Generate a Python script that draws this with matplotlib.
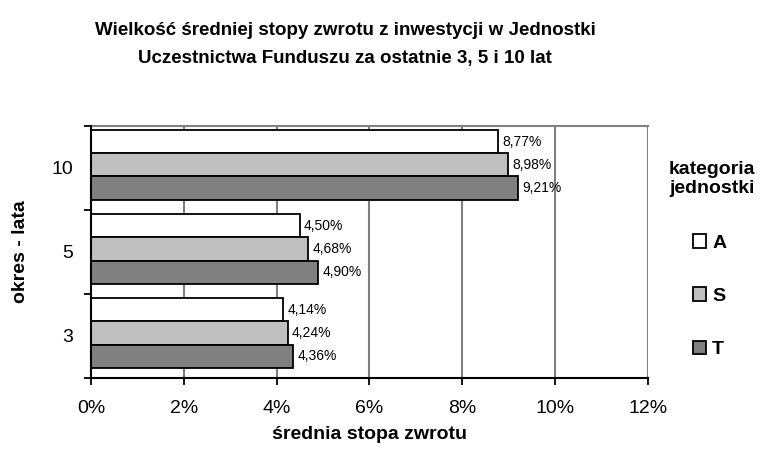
"""
Średnia stopa zwrotu z inwestycji w jednostki funduszu - poziomy wykres słupkowy.
"""
import numpy as np
import matplotlib.pyplot as plt
from matplotlib.ticker import FuncFormatter

plt.rcParams["font.family"] = ["Liberation Sans", "DejaVu Sans"]

periods = ["3", "5", "10"]
categories = ["A", "S", "T"]
values_a = [4.14, 4.50, 8.77]
values_s = [4.24, 4.68, 8.98]
values_t = [4.36, 4.90, 9.21]
colors = ["#ffffff", "#c0c0c0", "#808080"]


def pl(v):
    return f"{v:.2f}%".replace(".", ",")


fig = plt.figure(figsize=(7.77, 4.61), dpi=100)
ax = fig.add_axes([0.117, 0.18, 0.717, 0.547])

y = np.arange(len(periods))
h = 0.275
offsets = [0.31, 0.035, -0.24]
for vals, off, col, name in zip([values_a, values_s, values_t], offsets, colors, categories):
    bars = ax.barh(y + off, vals, height=h, color=col, edgecolor="black", linewidth=1.3,
                   label=name, zorder=3)
    for b, v in zip(bars, vals):
        ax.annotate(pl(v), (v, b.get_y() + b.get_height() / 2), xytext=(3, 0),
                    textcoords="offset points", va="center", ha="left", fontsize=10, zorder=4)

ax.set_xlim(0, 12)
ax.set_ylim(-0.5, 2.5)
ax.set_xticks(np.arange(0, 13, 2))
ax.xaxis.set_major_formatter(FuncFormatter(lambda v, p: f"{v:.0f}%"))
ax.set_yticks([-0.5, 0.5, 1.5, 2.5])
ax.set_yticklabels([])
ax.set_yticks(y, minor=True)
ax.set_yticklabels(periods, minor=True)
ax.tick_params(axis="y", which="minor", length=0, labelsize=14, pad=13)
ax.tick_params(axis="y", which="major", length=5, width=1.3, direction="out")
ax.tick_params(axis="x", length=5, width=1.3, direction="out", labelsize=14, pad=11)

ax.grid(axis="x", color="#808080", lw=1.5, zorder=0)
for s in ["left", "bottom"]:
    ax.spines[s].set_linewidth(1.5)
    ax.spines[s].set_zorder(5)
ax.spines["top"].set_color("#808080")
ax.spines["top"].set_linewidth(1.5)
ax.spines["right"].set_visible(False)

ax.set_xlabel("średnia stopa zwrotu", fontsize=14, fontweight="bold", labelpad=6)
ax.set_ylabel("okres - lata", fontsize=14, fontweight="bold", labelpad=16)

fig.suptitle("Wielkość średniej stopy zwrotu z inwestycji w Jednostki\n"
             "Uczestnictwa Funduszu za ostatnie 3, 5 i 10 lat",
             x=0.444, y=0.952, fontsize=13.5, fontweight="bold", linespacing=1.85)

# legenda: tytuł osobno, wpisy niżej
fig.text(0.916, 0.612, "kategoria\njednostki", ha="center", va="center",
         fontsize=14, fontweight="bold", linespacing=1.15)
handles, labels = ax.get_legend_handles_labels()
fig.legend(handles, labels, loc="upper left", bbox_to_anchor=(0.879, 0.513),
           frameon=False, handlelength=0.7, handleheight=0.7, handletextpad=0.3,
           labelspacing=1.83, borderpad=0, prop={"weight": "bold", "size": 14})

fig.savefig("out.png", dpi=100)
